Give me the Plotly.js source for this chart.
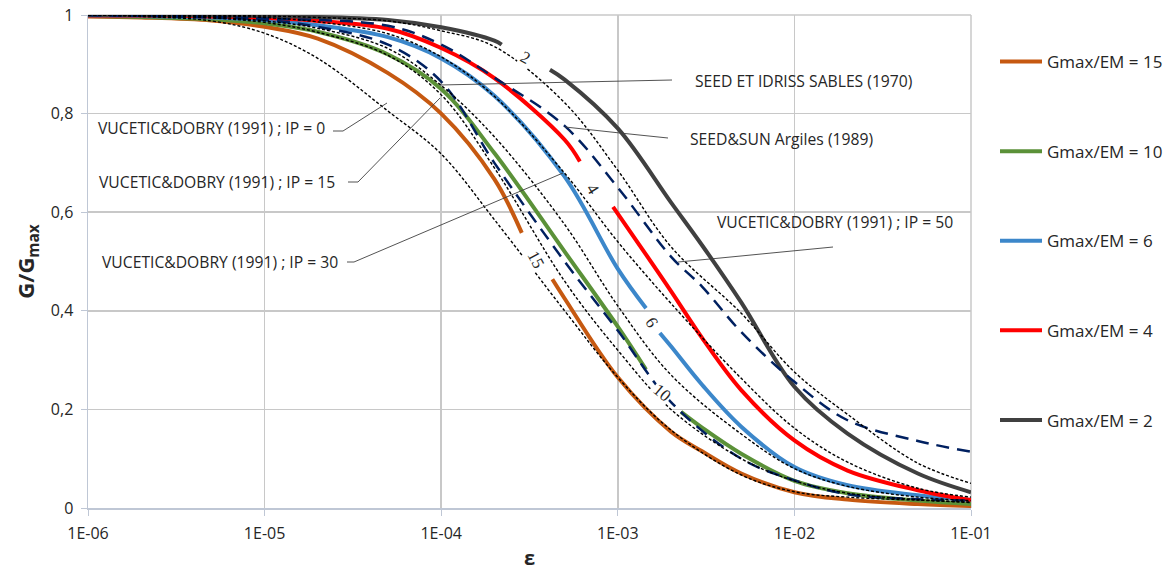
<!DOCTYPE html>
<html>
<head>
<meta charset="utf-8">
<script src="https://cdn.plot.ly/plotly-3.0.1.min.js"></script>
<style>html,body{margin:0;padding:0;background:#fff;}#chart{width:1170px;height:571px;}</style>
</head>
<body>
<div id="chart"></div>
<script>
// ---- tick labels ----
const xTickVals = [1e-6, 1e-5, 1e-4, 1e-3, 1e-2, 1e-1];
const xTickText = ['1E-06', '1E-05', '1E-04', '1E-03', '1E-02', '1E-01'];

// ---- Gmax/EM curves (null = gap behind curve label) ----
const strain15 = [1e-6, 2e-6, 5e-6, 1e-5, 2e-5, 5e-5, 1e-4, 2e-4, 2.86e-4, null, 4.26e-4, 5e-4, 1e-3, 2e-3, 3e-3, 5e-3, 1e-2, 2e-2, 5e-2, 1e-1];
const ratio15  = [0.997, 0.995, 0.989, 0.976, 0.952, 0.882, 0.8, 0.667, 0.558, null, 0.464, 0.425, 0.265, 0.155, 0.115, 0.07, 0.032, 0.017, 0.008, 0.004];

const strain10 = [1e-6, 2e-6, 5e-6, 1e-5, 2e-5, 5e-5, 1e-4, 2e-4, 5e-4, 1e-3, 1.445e-3, null, 2.28e-3, 3e-3, 5e-3, 1e-2, 2e-2, 5e-2, 1e-1];
const ratio10  = [0.998, 0.996, 0.991, 0.983, 0.966, 0.92, 0.85, 0.72, 0.52, 0.368, 0.281, null, 0.195, 0.163, 0.11, 0.055, 0.03, 0.015, 0.008];

const strain6 = [1e-6, 2e-6, 5e-6, 1e-5, 2e-5, 5e-5, 1e-4, 2e-4, 5e-4, 1e-3, 1.445e-3, null, 1.73e-3, 2e-3, 3e-3, 5e-3, 1e-2, 2e-2, 5e-2, 1e-1];
const ratio6  = [0.999, 0.998, 0.995, 0.99, 0.979, 0.955, 0.912, 0.836, 0.672, 0.485, 0.405, null, 0.355, 0.328, 0.25, 0.165, 0.083, 0.046, 0.026, 0.016];

const strain4 = [1e-6, 2e-6, 5e-6, 1e-5, 2e-5, 5e-5, 1e-4, 2e-4, 5e-4, 6.1e-4, null, 9.4e-4, 2e-3, 3e-3, 5e-3, 1e-2, 2e-2, 5e-2, 1e-1];
const ratio4  = [0.999, 0.999, 0.997, 0.994, 0.988, 0.972, 0.933, 0.872, 0.747, 0.703, null, 0.611, 0.44, 0.345, 0.239, 0.137, 0.076, 0.036, 0.016];

const strain2 = [1e-6, 1e-5, 5e-5, 1e-4, 2e-4, 2.2e-4, null, 4.13e-4, 5e-4, 1e-3, 2e-3, 3e-3, 5e-3, 1e-2, 2e-2, 5e-2, 1e-1];
const ratio2  = [1.0, 0.998, 0.99, 0.975, 0.948, 0.94, null, 0.889, 0.869, 0.77, 0.62, 0.533, 0.417, 0.246, 0.151, 0.07, 0.032];

// ---- reference curves ----
const strainSeedIdriss = [1e-6, 1e-5, 2e-5, 5e-5, 1e-4, 2e-4, 5e-4, 1e-3, 2e-3, 5e-3, 1e-2, 2e-2, 5e-2, 1e-1];
const ratioSeedIdriss  = [1.0, 0.99, 0.976, 0.94, 0.865, 0.7, 0.5, 0.36, 0.215, 0.1, 0.056, 0.028, 0.018, 0.015];

const strainSeedSun = [1e-6, 1e-5, 5e-5, 1e-4, 2e-4, 5e-4, 1e-3, 2e-3, 3e-3, 5e-3, 1e-2, 2e-2, 5e-2, 1e-1];
const ratioSeedSun  = [1.0, 0.993, 0.978, 0.94, 0.873, 0.775, 0.65, 0.51, 0.449, 0.357, 0.256, 0.178, 0.136, 0.114];

const strainVD = [1e-6, 2e-6, 5e-6, 1e-5, 2e-5, 5e-5, 1e-4, 2e-4, 5e-4, 1e-3, 2e-3, 5e-3, 1e-2, 2e-2, 5e-2, 1e-1];
const ratioIP0  = [1.0, 0.997, 0.988, 0.963, 0.912, 0.805, 0.718, 0.585, 0.4, 0.265, 0.158, 0.067, 0.033, 0.022, 0.016, 0.012];
const ratioIP15 = [1.0, 0.998, 0.994, 0.985, 0.965, 0.918, 0.838, 0.69, 0.46, 0.32, 0.2, 0.1, 0.055, 0.03, 0.017, 0.011];
const ratioIPb  = [1.0, 0.999, 0.996, 0.988, 0.973, 0.932, 0.857, 0.753, 0.575, 0.41, 0.27, 0.15, 0.08, 0.044, 0.022, 0.015];
const ratioIP30 = [1.0, 1.0, 0.998, 0.995, 0.986, 0.962, 0.915, 0.835, 0.679, 0.54, 0.415, 0.263, 0.162, 0.093, 0.04, 0.022];
const ratioIP50 = [1.0, 1.0, 0.999, 0.998, 0.995, 0.988, 0.968, 0.936, 0.822, 0.685, 0.53, 0.395, 0.276, 0.19, 0.091, 0.05];

const seriesNames = ['Gmax/EM = 15', 'Gmax/EM = 10', 'Gmax/EM = 6', 'Gmax/EM = 4', 'Gmax/EM = 2'];
const curveLabels = ['15', '10', '6', '4', '2'];

// ---- styling / layout helpers ----
const FONT = '"Open Sans", "Noto Sans", sans-serif';
const L = 88, R = 971, T = 15, B = 508;
const pxX = p => (p - L) / (R - L);
const pxY = p => (B - p) / (B - T);

function solid(x, y, name, color, grp) {
  return {x: x, y: y, name: name, type: 'scatter', mode: 'lines', connectgaps: false,
    line: {color: color, width: 4, shape: 'spline', smoothing: 1}, legendgroup: grp, hoverinfo: 'skip'};
}
function other(x, y, color, width, dash) {
  return {x: x, y: y, type: 'scatter', mode: 'lines', showlegend: false,
    line: {color: color, width: width, dash: dash, shape: 'spline', smoothing: 1}, hoverinfo: 'skip'};
}

const traces = [
  solid(strain15, ratio15, seriesNames[0], '#C65911', 'a'),
  solid(strain10, ratio10, seriesNames[1], '#5B9138', 'b'),
  solid(strain6, ratio6, seriesNames[2], '#3C87CA', 'c'),
  solid(strain4, ratio4, seriesNames[3], '#FF0000', 'd'),
  solid(strain2, ratio2, seriesNames[4], '#404040', 'e'),
  other(strainSeedIdriss, ratioSeedIdriss, '#002060', 2.5, '13px,8px'),
  other(strainSeedSun, ratioSeedSun, '#002060', 2.5, '13px,8px'),
  other(strainVD, ratioIP0, '#000000', 1.4, '3px,2px'),
  other(strainVD, ratioIP15, '#000000', 1.4, '3px,2px'),
  other(strainVD, ratioIPb, '#000000', 1.4, '3px,2px'),
  other(strainVD, ratioIP30, '#000000', 1.4, '3px,2px'),
  other(strainVD, ratioIP50, '#000000', 1.4, '3px,2px')
];

// text annotations (pixel positions converted to paper)
const textAnn = [
  {t: 'SEED ET IDRISS SABLES (1970)', x: 693, y: 81},
  {t: 'SEED&amp;SUN Argiles (1989)', x: 688, y: 139},
  {t: 'VUCETIC&amp;DOBRY (1991) ; IP = 0', x: 96, y: 128},
  {t: 'VUCETIC&amp;DOBRY (1991) ; IP = 15', x: 97, y: 182},
  {t: 'VUCETIC&amp;DOBRY (1991) ; IP = 30', x: 100, y: 262},
  {t: 'VUCETIC&amp;DOBRY (1991) ; IP = 50', x: 715, y: 222}
];
const curveAnn = [
  {i: 0, x: 536, y: 259, a: 62},
  {i: 1, x: 662, y: 392, a: 40},
  {i: 2, x: 652, y: 322, a: 60},
  {i: 3, x: 592, y: 189, a: 58},
  {i: 4, x: 525, y: 58, a: 28}
];
const annotations = [];
textAnn.forEach(a => annotations.push({
  text: a.t, xref: 'paper', yref: 'paper', x: pxX(a.x), y: pxY(a.y), xanchor: 'left', yanchor: 'middle',
  showarrow: false, font: {family: FONT, size: 15.7, color: '#262626'}
}));
curveAnn.forEach(a => annotations.push({
  text: curveLabels[a.i], xref: 'paper', yref: 'paper', x: pxX(a.x), y: pxY(a.y), xanchor: 'center', yanchor: 'middle',
  showarrow: false, textangle: a.a, bgcolor: '#ffffff', borderpad: 1,
  font: {family: '"Liberation Serif", serif', size: 17, color: '#262626'}
}));

// leader lines (pixel paths)
const leaders = [
  [[440, 85], [672, 80]],
  [[565, 127], [620, 133], [668, 138]],
  [[333, 131], [343, 131], [387, 103]],
  [[348, 182], [358, 182], [440, 98]],
  [[347, 262], [354, 262], [563, 173]],
  [[833, 247], [710, 259], [678, 262]]
];
const shapes = [];
leaders.forEach(pts => {
  for (let k = 0; k < pts.length - 1; k++) {
    shapes.push({type: 'line', xref: 'paper', yref: 'paper',
      x0: pxX(pts[k][0]), y0: pxY(pts[k][1]), x1: pxX(pts[k + 1][0]), y1: pxY(pts[k + 1][1]),
      line: {color: '#404040', width: 0.9}});
  }
});
// top and right frame (gridline coloured)
shapes.push({type: 'line', xref: 'paper', yref: 'paper', x0: 0, x1: 1, y0: 1, y1: 1, line: {color: '#C8C8C8', width: 1.5}, layer: 'below'});
shapes.push({type: 'line', xref: 'paper', yref: 'paper', x0: 1, x1: 1, y0: 0, y1: 1, line: {color: '#C8C8C8', width: 1.5}, layer: 'below'});

const layout = {
  width: 1170, height: 571,
  margin: {l: L, r: 1170 - R, t: T, b: 571 - B, autoexpand: false},
  paper_bgcolor: '#ffffff', plot_bgcolor: '#ffffff',
  separators: ', ',
  font: {family: FONT, color: '#404040'},
  showlegend: true,
  legend: {x: pxX(995), xanchor: 'left', y: pxY(44), yanchor: 'top', itemwidth: 42,
    tracegroupgap: 64.5, font: {family: FONT, size: 17, color: '#262626'}, bgcolor: 'rgba(0,0,0,0)'},
  xaxis: {type: 'log', range: [-6, -1], tickvals: xTickVals, ticktext: xTickText,
    showgrid: true, gridcolor: '#C8C8C8', gridwidth: 1.5, zeroline: false,
    showline: true, linecolor: '#BFC7D5', linewidth: 1.5, ticks: 'outside', ticklen: 6, tickcolor: '#BFC7D5',
    ticklabelstandoff: 4,
    tickfont: {family: FONT, size: 16, color: '#262626'},
    title: {text: '<b>ε</b>', font: {family: FONT, size: 20, color: '#262626'}, standoff: 14}},
  yaxis: {range: [0, 1], dtick: 0.2, tick0: 0,
    showgrid: true, gridcolor: '#C8C8C8', gridwidth: 1.5, zeroline: false,
    showline: true, linecolor: '#BFC7D5', linewidth: 1.5, ticks: 'outside', ticklen: 6, tickcolor: '#BFC7D5',
    ticklabelstandoff: 4,
    tickfont: {family: FONT, size: 16, color: '#262626'},
    title: {text: '<b>G/G<sub>max</sub></b>', font: {family: FONT, size: 22, color: '#262626'}, standoff: 10}},
  annotations: annotations,
  shapes: shapes
};

Plotly.newPlot('chart', traces, layout, {staticPlot: true, displayModeBar: false});
</script>
</body>
</html>
